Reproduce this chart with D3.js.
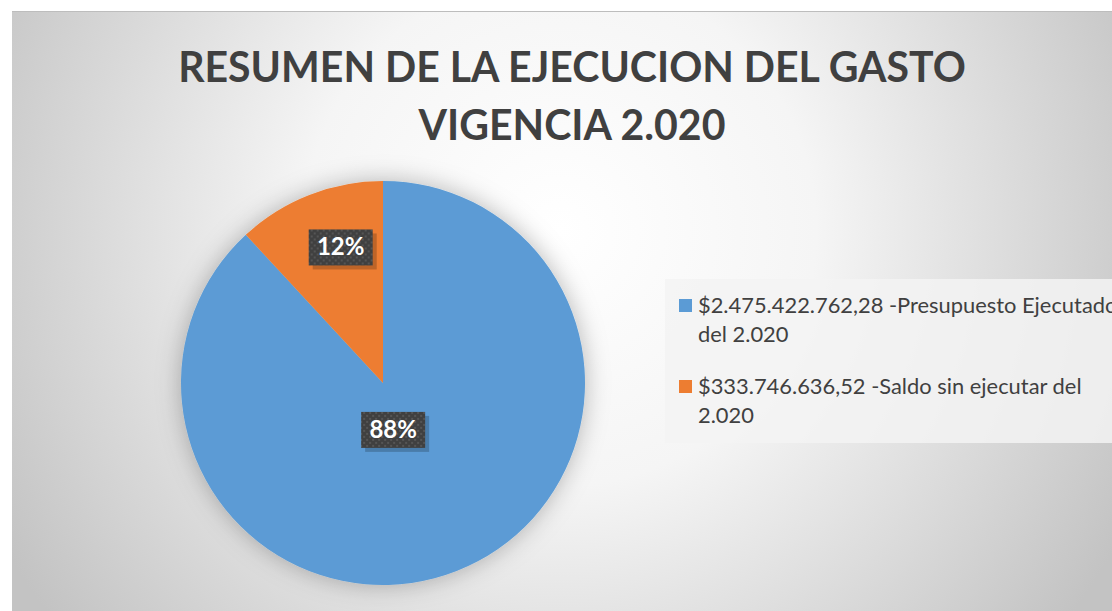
<!DOCTYPE html>
<html>
<head>
<meta charset="utf-8">
<script src="https://cdn.jsdelivr.net/npm/d3@7"></script>
<style>
  body { margin: 0; background: #fff; }
  svg { display: block; }
</style>
</head>
<body>
<div id="chart"></div>
<script>
// Resumen de la ejecucion del gasto - pie

var width = 1112
var height = 611

// data
var categories = ["$2.475.422.762,28 -Presupuesto Ejecutado del 2.020", "$333.746.636,52 -Saldo sin ejecutar del 2.020"]
var values = [2475422762.28, 333746636.52]
var legendLines = [["$2.475.422.762,28 -Presupuesto Ejecutado", "del 2.020"], ["$333.746.636,52 -Saldo sin ejecutar del", "2.020"]]
var colors = ["#5b9bd5", "#ed7d31"]
var titleLines = ["RESUMEN DE LA EJECUCION DEL GASTO", "VIGENCIA 2.020"]

var data = categories.map(function(c, i) { return { name: c, value: values[i], color: colors[i], lines: legendLines[i] } })
var total = d3.sum(values)

var font = "Lato, 'Open Sans', sans-serif"

var svg = d3.select("#chart")
  .append("svg")
    .attr("width", width)
    .attr("height", height)

var defs = svg.append("defs")

// background gradient
var bg = defs.append("radialGradient")
    .attr("id", "bg")
    .attr("gradientUnits", "userSpaceOnUse")
    .attr("cx", 560).attr("cy", 230).attr("r", 640)
bg.append("stop").attr("offset", "0%").attr("stop-color", "#ffffff")
bg.append("stop").attr("offset", "40%").attr("stop-color", "#f5f5f5")
bg.append("stop").attr("offset", "100%").attr("stop-color", "#c3c3c3")

// glow around the pie
var glow = defs.append("filter").attr("id", "glow")
    .attr("x", "-20%").attr("y", "-20%").attr("width", "140%").attr("height", "140%")
glow.append("feDropShadow")
    .attr("dx", 0).attr("dy", 0).attr("stdDeviation", 12)
    .attr("flood-color", "#000").attr("flood-opacity", 0.28)

// dotted texture for the data labels
var pat = defs.append("pattern").attr("id", "dots")
    .attr("patternUnits", "userSpaceOnUse")
    .attr("width", 6).attr("height", 6)
pat.append("rect").attr("width", 6).attr("height", 6).attr("fill", "#404040")
pat.append("rect").attr("x", 0).attr("y", 0).attr("width", 2).attr("height", 2).attr("fill", "#555")
pat.append("rect").attr("x", 3).attr("y", 3).attr("width", 2).attr("height", 2).attr("fill", "#555")

// chart area
svg.append("rect")
    .attr("x", 12).attr("y", 11)
    .attr("width", width - 12).attr("height", height - 11)
    .attr("fill", "url(#bg)")
svg.append("line")
    .attr("x1", 12).attr("x2", width).attr("y1", 11.5).attr("y2", 11.5)
    .attr("stroke", "#bdbdbd")

// title
var title = svg.append("g")
  .selectAll("text")
  .data(titleLines)
  .enter()
  .append("text")
    .attr("x", 572)
    .attr("y", function(d, i) { return 82 + i * 58 })
    .attr("text-anchor", "middle")
    .style("font-family", font)
    .style("font-weight", "bold")
    .style("font-size", "48px")
    .style("fill", "#404040")
    .text(function(d) { return d })

// fit first title line to ~788px like the original
var tw = title.node().getComputedTextLength()
title.style("font-size", (48 * 788 / tw) + "px")

// pie
var cx = 383, cy = 383, radius = 202

var pie = d3.pie().sort(null).value(function(d) { return d.value })
var arc = d3.arc().innerRadius(0).outerRadius(radius)
var arcs = pie(data)

var g = svg.append("g").attr("transform", "translate(" + cx + "," + cy + ")")

g.append("g")
    .attr("filter", "url(#glow)")
  .selectAll("path")
  .data(arcs)
  .enter()
  .append("path")
    .attr("d", arc)
    .attr("fill", function(d) { return d.data.color })

// data labels (radius factor + small horizontal nudge, like excel's placement)
var labelR = [0.26, 0.71]
var labelDx = [-9, 10]
var fmt = d3.format(".0%")

var lab = g.selectAll(".lab")
  .data(arcs)
  .enter()
  .append("g")
    .attr("class", "lab")
    .attr("transform", function(d) {
      var r = radius * labelR[d.index]
      var p = d3.arc().innerRadius(r).outerRadius(r).centroid(d)
      return "translate(" + (p[0] + labelDx[d.index]) + "," + (p[1] - 2) + ")"
    })

lab.append("rect")
    .attr("x", -28).attr("y", -14)
    .attr("width", 64).attr("height", 36)
    .attr("fill", "#000").attr("opacity", 0.2)
lab.append("rect")
    .attr("x", -32).attr("y", -18)
    .attr("width", 64).attr("height", 36)
    .attr("fill", "url(#dots)")
lab.append("text")
    .attr("y", 8)
    .attr("text-anchor", "middle")
    .style("font-family", font)
    .style("font-weight", "bold")
    .style("font-size", "24px")
    .style("fill", "#fff")
    .text(function(d) { return fmt(d.data.value / total) })

// legend
var legend = svg.append("g")
legend.append("rect")
    .attr("x", 665).attr("y", 279)
    .attr("width", width - 665).attr("height", 164)
    .attr("fill", "#f3f3f3").attr("opacity", 0.85)

var item = legend.selectAll(".item")
  .data(data)
  .enter()
  .append("g")
    .attr("class", "item")
    .attr("transform", function(d, i) { return "translate(679," + (299 + i * 81) + ")" })

item.append("rect")
    .attr("width", 13).attr("height", 13)
    .attr("fill", function(d) { return d.color })

var ltext = item.append("text")
    .style("font-family", font)
    .style("font-size", "20px")
    .style("fill", "#404040")
ltext.selectAll("tspan")
  .data(function(d) { return d.lines })
  .enter()
  .append("tspan")
    .attr("x", 19)
    .attr("y", function(d, i) { return 14 + i * 29 })
    .text(function(d) { return d })

// scale legend font so second item's first line spans ~384px
var lw = ltext.nodes()[1].querySelector("tspan").getComputedTextLength()
ltext.style("font-size", (20 * 384 / lw) + "px")
</script>
</body>
</html>
